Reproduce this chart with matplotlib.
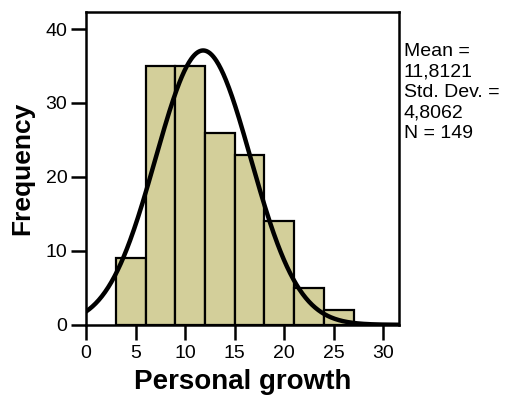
import numpy as np
import matplotlib.pyplot as plt

plt.rcParams['font.family'] = ['Liberation Sans', 'DejaVu Sans']

# histogram bins (width 3) and counts
bin_edges = [3, 6, 9, 12, 15, 18, 21, 24, 27]
counts = [9, 35, 35, 26, 23, 14, 5, 2]

mean = 11.8121
std_dev = 4.8062
n = 149

fig = plt.figure(figsize=(5.13, 4.01), dpi=100)
ax = fig.add_axes([0.168, 0.19, 0.61, 0.78])

lefts = bin_edges[:-1]
widths = np.diff(bin_edges)
ax.bar(lefts, counts, width=widths, align='edge', color='#d3cf9a',
       edgecolor='black', linewidth=1.6)

# normal curve scaled to counts
xs = np.linspace(0, 31.6, 400)
bw = widths[0]
ys = n * bw / (std_dev * np.sqrt(2 * np.pi)) * np.exp(-0.5 * ((xs - mean) / std_dev) ** 2)
ax.plot(xs, ys, color='black', linewidth=3.2)

ax.set_xlim(0, 31.6)
ax.set_ylim(0, 42.3)
ax.set_xticks([0, 5, 10, 15, 20, 25, 30])
ax.set_yticks([0, 10, 20, 30, 40])
ax.tick_params(direction='out', length=10.5, width=1.8, labelsize=14)
ax.tick_params(axis='x', pad=4)
ax.tick_params(axis='y', pad=3)
for s in ax.spines.values():
    s.set_linewidth(1.8)

ax.set_xlabel('Personal growth', fontsize=20, fontweight='bold', labelpad=5)
ax.set_ylabel('Frequency', fontsize=19, fontweight='bold', labelpad=8)

fig.text(0.787, 0.893, 'Mean =\n11,8121\nStd. Dev. =\n4,8062\nN = 149',
         fontsize=14, va='top', ha='left', linespacing=1.27)

fig.savefig('out.png', dpi=100)
